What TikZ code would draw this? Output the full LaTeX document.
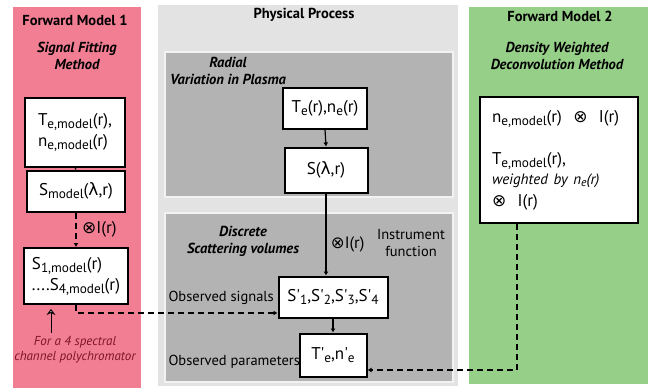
\documentclass[tikz,border=0pt]{standalone}
\usepackage{fontspec}
\setmainfont{PT Sans}
\newfontfamily\symf{DejaVu Sans}
\usepackage{tikz}
\usetikzlibrary{calc,positioning,arrows.meta}
\usepackage{xcolor}
\definecolor{fmpink}{RGB}{242,126,147}
\definecolor{fmgreen}{RGB}{150,207,136}
\definecolor{pplight}{RGB}{227,227,227}
\definecolor{ppdark}{RGB}{179,179,179}
\definecolor{ppframe}{RGB}{242,242,242}
\definecolor{notered}{RGB}{125,20,40}
\newcommand{\sbs}[1]{\raisebox{-0.35ex}{\scalebox{0.78}{#1}}}
\newcommand{\otim}{{\symf ⊗}}
\newcommand{\lam}{{\symf λ}}
\newcommand{\pr}{\textquotesingle}

\begin{document}
\begin{tikzpicture}[x=1pt,y=-1pt,
    hdr/.style={font=\fontsize{14.5}{16}\selectfont\bfseries},
    subhdr/.style={font=\fontsize{14.5}{17}\selectfont\bfseries\itshape, align=center},
    box/.style={draw, line width=2pt, fill=white, inner sep=1pt,
        font=\fontsize{17}{21}\selectfont},
    lbl/.style={font=\fontsize{14.5}{17}\selectfont, align=center},
    arr/.style={line width=1.2pt, -{Latex[length=4pt,width=5pt]}},
    dsh/.style={line width=1.6pt, dash pattern=on 6pt off 4pt, -{Latex[length=4pt,width=5pt]}}]
    \useasboundingbox (0,0) rectangle (654,388);

    % Panels
    \fill[fmpink] (13,7) rectangle (141,388);
    \fill[pplight] (158,5) rectangle (458,386);
    \fill[fmgreen] (469,7) rectangle (648,384);
    \draw[ppframe, line width=2pt, fill=ppdark] (165,52) rectangle (453,197);
    \draw[ppframe, line width=2pt, fill=ppdark] (165,213) rectangle (453,382);

    % Forward model 1
    \node[hdr] at (75,20) {Forward Model 1};
    \node[subhdr] at (77,56) {Signal Fitting\\Method};
    \node[box, minimum width=100pt, minimum height=69pt, align=left] (tem) at (75,132)
        {T\sbs{e,model}(r),\\n\sbs{e,model}(r)};
    \node[box, minimum width=98pt, minimum height=41pt] (smod) at (76,191)
        {S\sbs{model}(\lam,r)};
    \node[box, minimum width=104pt, minimum height=56pt, align=left] (s1m) at (76,276)
        {S\sbs{1,model}(r)\\....S\sbs{4,model}(r)};
    \node[font=\fontsize{13}{15}\selectfont\itshape, text=notered, align=center] (note) at (75,350)
        {For a 4 spectral\\channel polychromator};

    % Physical process
    \node[hdr] at (304,15) {Physical Process};
    \node[subhdr] at (228,71) {Radial\\Variation in Plasma};
    \node[box, minimum width=84pt, minimum height=41pt] (ten) at (325,108)
        {T\sbs{e}(r),n\sbs{e}(r)};
    \node[box, minimum width=83pt, minimum height=45pt] (sl) at (326,170)
        {S(\lam,r)};
    \node[subhdr] at (243,241) {Discrete\\Scattering volumes};
    \node[box, minimum width=109pt, minimum height=41pt] (spr) at (333,297)
        {S\pr\sbs{1},S\pr\sbs{2},S\pr\sbs{3},S\pr\sbs{4}};
    \node[box, minimum width=67pt, minimum height=43pt] (tpr) at (333,355)
        {T\pr\sbs{e},n\pr\sbs{e}};
    \node[lbl] (instr) at (411,243) {Instrument\\function};
    \node[lbl, anchor=west] (obss) at (165,298) {Observed signals};
    \node[lbl, anchor=west] (obsp) at (165,362) {Observed parameters};

    % Forward model 2
    \node[hdr] at (560,16) {Forward Model 2};
    \node[subhdr] at (557,56) {Density Weighted\\Deconvolution Method};
    \node[box, text width=134pt, inner sep=12pt, minimum height=126pt, align=left] (fm2) at (559,160)
        {n\sbs{e,model}(r) \ \otim\ \ I(r)\\[21pt]
         T\sbs{e,model}(r),\\[-1pt]
         {\fontsize{15}{17}\selectfont\itshape weighted by n\sbs{e}(r)}\\[1pt]
         \otim\ \ I(r)};

    % Connectors
    \draw[line width=1.2pt] (tem.south) -- (smod.north);
    \draw[dsh] (smod.south) -- (s1m.north) node[midway, right=2pt, font=\fontsize{17}{19}\selectfont] {\otim I(r)};
    \draw[arr] (ten.south) -- (sl.north);
    \draw[arr] (sl.south) -- (sl.south |- spr.north)
        node[pos=0.62, right=1pt, font=\fontsize{16.5}{19}\selectfont] {\otim I(r)};
    \draw[arr] (spr.south) -- (tpr.north);
    \draw[dsh] (s1m.south) |- ([yshift=-16pt]spr.west);
    \draw[dsh] ([xshift=-42pt]fm2.south) |- ([yshift=-15pt]tpr.east);
    \draw[line width=1pt, -{Stealth[length=6pt,width=9pt,fill=white]}]
        ([xshift=-24pt]note.north) -- ([xshift=-25pt,yshift=-4pt]s1m.south);
\end{tikzpicture}
\end{document}
